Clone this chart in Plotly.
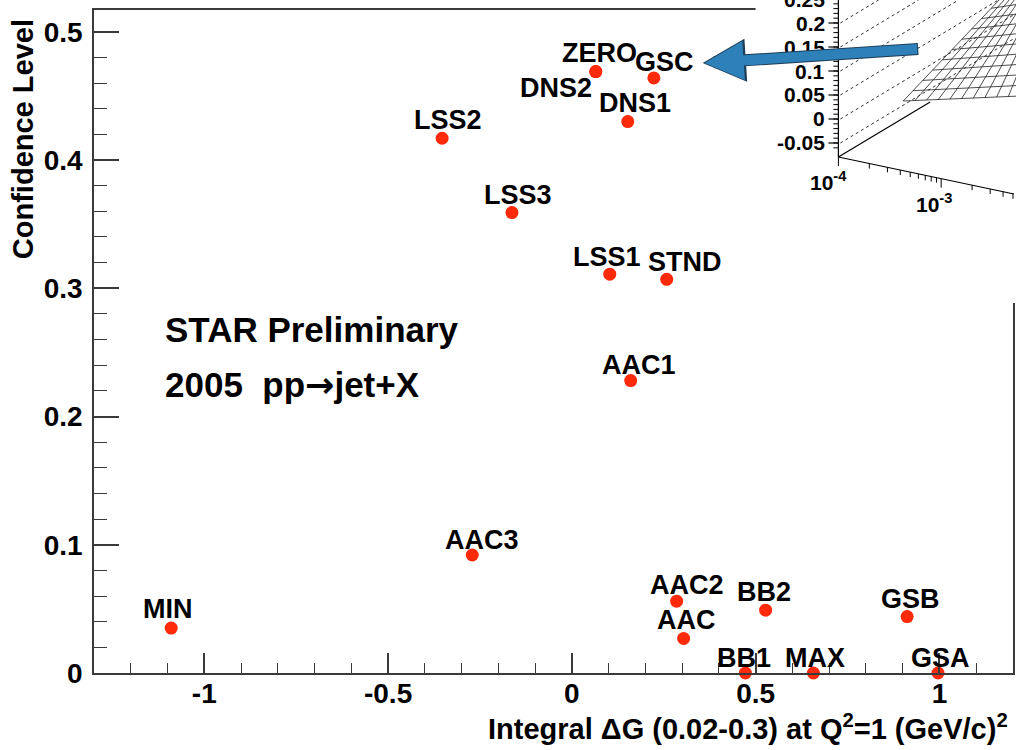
import plotly.graph_objects as go
import numpy as np

# ---------------- data ----------------
names = ["MIN", "AAC3", "LSS2", "LSS3", "LSS1", "STND", "DNS1", "DNS2", "ZERO",
         "GSC", "AAC1", "AAC2", "AAC", "BB2", "BB1", "MAX", "GSB", "GSA"]
delta_g = [-1.090, -0.271, -0.353, -0.163, 0.103, 0.258, 0.152, 0.065, 0.065,
           0.223, 0.160, 0.285, 0.304, 0.527, 0.472, 0.657, 0.912, 0.996]
conf_level = [0.035, 0.092, 0.417, 0.359, 0.311, 0.307, 0.430, 0.469, 0.469,
              0.464, 0.228, 0.056, 0.027, 0.049, 0.000, 0.000, 0.044, 0.000]

x_tickvals = [-1, -0.5, 0, 0.5, 1]
x_ticktext = ["-1", "-0.5", "0", "0.5", "1"]
y_tickvals = [0, 0.1, 0.2, 0.3, 0.4, 0.5]
y_ticktext = ["0", "0.1", "0.2", "0.3", "0.4", "0.5"]

inset_tickvals = [0.25, 0.2, 0.15, 0.1, 0.05, 0, -0.05]
inset_ticktext = ["0.25", "0.2", "0.15", "0.1", "0.05", "0", "-0.05"]

# label offsets (pixels, text centre relative to the point)
label_shift = {
    "MIN": (-3, 19), "AAC3": (10, 15), "LSS2": (6, 18), "LSS3": (6, 18),
    "LSS1": (-3, 17), "STND": (18, 17), "DNS1": (7, 19), "DNS2": (-40, -16),
    "ZERO": (4, 19), "GSC": (11, 16), "AAC1": (8, 16), "AAC2": (10, 16),
    "AAC": (3, 18), "BB2": (-2, 18), "BB1": (-1, 15), "MAX": (2, 15),
    "GSB": (3, 18), "GSA": (2, 15),
}

# ---------------- layout geometry ----------------
W, H = 1016, 750
L, R, T, B = 94, 1, 10, 77
PW, PH = W - L - R, H - T - B


def px(x):
    return (x - L) / PW


def py(y):
    return (H - B - y) / PH


FONT = "Liberation Sans"
AXC = "#3a3a3a"

fig = go.Figure()
fig.add_trace(go.Scatter(
    x=delta_g, y=conf_level, mode="markers",
    marker=dict(size=13, color="#ff2a0a", line=dict(width=0)),
    cliponaxis=False, showlegend=False, hoverinfo="skip"))

annotations = []
for n, xv, yv in zip(names, delta_g, conf_level):
    dx, dy = label_shift[n]
    annotations.append(dict(
        x=xv, y=yv, xref="x", yref="y", text=n, showarrow=False,
        xshift=dx, yshift=dy, xanchor="center", yanchor="middle",
        font=dict(family=FONT, size=27, color="black", weight="bold")))

# text block
annotations.append(dict(x=px(163), y=py(330), xref="paper", yref="paper",
                        text="STAR Preliminary", showarrow=False,
                        xanchor="left", yanchor="middle",
                        font=dict(family=FONT, size=35, color="black", weight="bold")))
annotations.append(dict(x=px(163), y=py(385), xref="paper", yref="paper",
                        text="2005  pp<span style=\"font-family:'DejaVu Sans'\">\u2192</span>jet+X",
                        showarrow=False,
                        xanchor="left", yanchor="middle",
                        font=dict(family=FONT, size=35, color="black", weight="bold")))

# axis titles
annotations.append(dict(x=px(1012), y=py(727), xref="paper", yref="paper",
                        text="Integral \u0394G (0.02-0.3) at Q<sup>2</sup>=1 (GeV/c)<sup>2</sup>",
                        showarrow=False, xanchor="right", yanchor="middle",
                        font=dict(family=FONT, size=29, color="black", weight="bold")))
annotations.append(dict(x=px(23), y=py(139), xref="paper", yref="paper",
                        text="Confidence Level", textangle=-90,
                        showarrow=False, xanchor="center", yanchor="middle",
                        font=dict(family=FONT, size=29, color="black", weight="bold")))

# ---------------- inset (decorative 3D surface panel) ----------------
shapes = []
shapes.append(dict(type="rect", xref="paper", yref="paper", layer="above",
                   x0=px(757), x1=px(1020), y0=py(303), y1=py(-5),
                   fillcolor="white", line=dict(width=0)))


def seg(x0, y0, x1, y1, width=1.0, color="black", dash="solid"):
    shapes.append(dict(type="line", xref="paper", yref="paper", layer="above",
                       x0=px(x0), y0=py(y0), x1=px(x1), y1=py(y1),
                       line=dict(color=color, width=width, dash=dash)))


def inset_y(v):
    return 119 - 480 * v


# vertical axis
seg(840, -5, 840, 157, 1.2)
for v in np.arange(-0.06, 0.26, 0.01):
    yy = inset_y(v)
    if yy < 157:
        seg(835, yy, 840, yy, 1.0)
for v, t in zip(inset_tickvals, inset_ticktext):
    yy = inset_y(v)
    seg(830, yy, 840, yy, 1.2)
    annotations.append(dict(x=px(829), y=py(yy), xref="paper", yref="paper",
                            text=t, showarrow=False, xanchor="right", yanchor="middle",
                            font=dict(family=FONT, size=21, color="black", weight="bold")))
    # dotted perspective grid lines
    x_end = 842 + yy / 0.6
    y_end = 0
    if x_end > 1016:
        x_end = 1016
        y_end = yy - 0.6 * (1016 - 842)
    seg(842, yy, x_end, y_end, 1.0, "#333333", "dot")

# base (log) axis
seg(840, 157, 1016, 194, 1.2)
for dec0 in (840, 943):
    for k in range(1, 10):
        xx = dec0 + 103 * np.log10(k)
        if xx > 1016:
            continue
        yy = 157 + (xx - 840) * 37 / 176
        seg(xx, yy, xx, yy + (9 if k == 1 else 5), 1.0)
annotations.append(dict(x=px(830), y=py(181), xref="paper", yref="paper",
                        text="10<sup>-4</sup>", showarrow=False, xanchor="center",
                        yanchor="middle",
                        font=dict(family=FONT, size=21, color="black", weight="bold")))
annotations.append(dict(x=px(936), y=py(203), xref="paper", yref="paper",
                        text="10<sup>-3</sup>", showarrow=False, xanchor="center",
                        yanchor="middle",
                        font=dict(family=FONT, size=21, color="black", weight="bold")))
# depth axis
seg(840, 157, 932, 102, 1.2)

# wireframe surface
A = np.array([905.0, 101.0])
Bq = np.array([1022.0, 96.0])
C = np.array([1060.0, -12.0])
D = np.array([1003.0, -2.0])


def quad(u, v):
    return (1 - u) * (1 - v) * A + u * (1 - v) * Bq + u * v * C + (1 - u) * v * D


for t in np.linspace(0, 1, 11):
    p0, p1 = quad(t, 0), quad(t, 1)
    seg(p0[0], p0[1], p1[0], p1[1], 0.8, "#222222")
    q0, q1 = quad(0, t), quad(1, t)
    seg(q0[0], q0[1], q1[0], q1[1], 0.8, "#222222")

# blue arrow pointing to GSC (outline + fill)
tip = (704, 63)
annotations.append(dict(x=px(tip[0]), y=py(tip[1]), xref="paper", yref="paper",
                        ax=217, ay=-14, text="", showarrow=True,
                        arrowhead=2, arrowwidth=12, arrowsize=0.72,
                        arrowcolor="#1d3d58", standoff=0))
annotations.append(dict(x=px(tip[0] + 2), y=py(tip[1]), xref="paper", yref="paper",
                        ax=214, ay=-14, text="", showarrow=True,
                        arrowhead=2, arrowwidth=10, arrowsize=0.78,
                        arrowcolor="#2d80b8", standoff=0))

fig.update_layout(
    width=W, height=H,
    margin=dict(l=L, r=R, t=T, b=B, pad=0),
    paper_bgcolor="white", plot_bgcolor="white",
    font=dict(family=FONT, color="black"),
    showlegend=False,
    xaxis=dict(range=[-1.3, 1.2], tickvals=x_tickvals, ticktext=x_ticktext,
               ticks="inside", ticklen=20, tickwidth=1.5, tickcolor=AXC,
               showline=True, linecolor=AXC, linewidth=1.6, mirror=True,
               showgrid=False, zeroline=False, ticklabelstandoff=-5,
               tickfont=dict(family=FONT, size=28, color="black", weight="bold"),
               minor=dict(dtick=0.1, tick0=0, ticks="inside", ticklen=10,
                          tickwidth=1.2, tickcolor=AXC, showgrid=False)),
    yaxis=dict(range=[0, 0.517], tickvals=y_tickvals, ticktext=y_ticktext,
               ticks="inside", ticklen=25, tickwidth=1.5, tickcolor=AXC,
               showline=True, linecolor=AXC, linewidth=1.6, mirror=True,
               showgrid=False, zeroline=False, ticklabelstandoff=4,
               tickfont=dict(family=FONT, size=28, color="black", weight="bold"),
               minor=dict(dtick=0.02, tick0=0, ticks="inside", ticklen=13,
                          tickwidth=1.2, tickcolor=AXC, showgrid=False)),
    shapes=shapes,
    annotations=annotations,
)

fig.write_html("out.html")
